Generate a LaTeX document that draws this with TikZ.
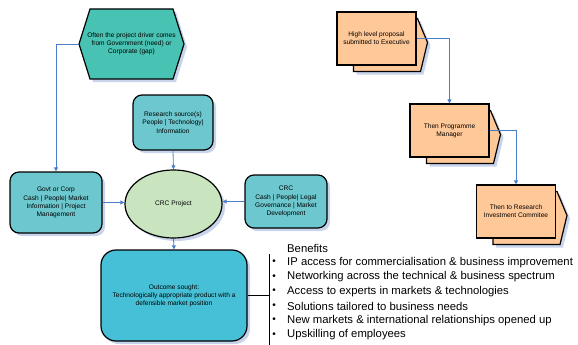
\documentclass[tikz,border=0pt]{standalone}
\usepackage{fontspec}
\setmainfont{Liberation Sans}
\usepackage{tikz}
\usetikzlibrary{calc}
\usetikzlibrary{shapes}
\usetikzlibrary{shadows}
\usetikzlibrary{arrows.meta}
\definecolor{drvteal}{RGB}{72,194,178}
\definecolor{boxteal}{RGB}{108,200,206}
\definecolor{outcyan}{RGB}{70,192,214}
\definecolor{crcgreen}{RGB}{200,229,192}
\definecolor{docorange}{RGB}{255,200,152}
\definecolor{shadeblue}{RGB}{200,212,236}
\definecolor{linkblue}{RGB}{74,126,200}
\tikzset{
  tinytext/.style={font=\fontsize{6.6}{8.2}\selectfont, align=center},
  shade/.style={drop shadow={shadow xshift=3pt, shadow yshift=-3pt, fill=shadeblue, opacity=1}},
  tealbox/.style={tinytext, draw, line width=1.2pt, rounded corners=9pt, fill=boxteal, shade},
  link/.style={linkblue, line width=0.8pt, -{Triangle[length=4pt,width=4pt]}},
  bentext/.style={anchor=west, inner sep=0pt, font=\fontsize{11.3}{13}\selectfont},
}
% stacked document: name, centre x, centre y, text
\newcommand{\docstack}[4]{
  \fill[shadeblue] ($(#2,#3)+(-20,-17)$) -- ($(#2,#3)+(44,-17)$) -- ($(#2,#3)+(54,7)$) -- ($(#2,#3)+(47,36)$) -- ($(#2,#3)+(-20,36)$) -- cycle;
  \draw[line width=1.2pt, fill=docorange] ($(#2,#3)+(-23,-20)$) -- ($(#2,#3)+(41,-20)$) -- ($(#2,#3)+(51,4)$) -- ($(#2,#3)+(44,33)$) -- ($(#2,#3)+(-23,33)$) -- cycle;
  \node[tinytext, draw, line width=1.2pt, fill=docorange, minimum width=79pt, minimum height=53pt, inner sep=0pt] (#1) at (#2,#3) {#4};
}

\begin{document}
\begin{tikzpicture}[x=1pt, y=-1pt]
  \useasboundingbox (0,0) rectangle (578,345);

  % driver
  \draw[line width=1.2pt, fill=drvteal, shade] (90,9) -- (173,9) -- (184,44) -- (173,79) -- (90,79) -- (79,44) -- cycle;
  \node[tinytext, inner sep=0pt] (drv) at (131.5,44)
        {Often the project driver comes\\from Government (need) or\\Corporate (gap)};
  \coordinate (drvtip) at (79,44);

  % inputs
  \node[tealbox, minimum width=80pt, minimum height=55pt] (res) at (173,122.5)
        {Research source(s)\\People | Technology|\\Information};
  \node[tealbox, minimum width=92pt, minimum height=61pt] (govt) at (56,202.5)
        {Govt or Corp\\Cash | People| Market\\Information | Project\\Management};
  \node[tealbox, minimum width=82pt, minimum height=53pt] (crcbox) at (286,201.5)
        {CRC\\Cash | People| Legal\\Governance | Market\\Development};

  % centre
  \node[tinytext, ellipse, draw, line width=1.2pt, fill=crcgreen, shade, minimum width=97pt, minimum height=68pt] (crc) at (173.5,204) {CRC Project};

  % outcome
  \node[tinytext, draw, line width=1.2pt, rounded corners=15pt, fill=outcyan, shade, minimum width=146pt, minimum height=91pt] (out) at (174,295.5)
        {Outcome sought:\\Technologically appropriate product with a\\defensible market position};

  \draw[link] (drvtip) -| (govt.north);
  \draw[link] (res.south) -- (crc.north);
  \draw[link] (govt.east) -- (govt.east -| crc.west);
  \draw[link] (crcbox.west) -- (crcbox.west -| crc.east);
  \draw[link] (crc.south) -- (out.north);

  % benefits
  \coordinate (brktop) at (269,254);
  \coordinate (brkbot) at (269,345);
  \draw[line width=0.8pt] (brktop) -- (brkbot);
  \draw[line width=0.8pt] (out.east) -- (out.east -| brktop);
  \node[bentext] (benhead) at (287,248) {Benefits};
  \foreach \txt [count=\i] in {IP access for commercialisation \& business improvement,
      Networking across the technical \& business spectrum,
      Access to experts in markets \& technologies,
      Solutions tailored to business needs,
      New markets \& international relationships opened up,
      Upskilling of employees}{
    \node[bentext] (ben\i) at (287,{248+14.5*\i}) {\txt};
    \node[inner sep=0pt, font=\fontsize{10}{12}\selectfont] (dot\i) at (274,{248+14.5*\i}) {\textbullet};
  }

  % approval chain
  \docstack{exec}{376.5}{38.5}{High level proposal\\submitted to Executive}
  \docstack{pm}{449.5}{130.5}{Then Programme\\Manager}
  \docstack{ric}{516}{211.5}{Then to Research\\Investment Commitee}

  \draw[link] (exec.east) -| (pm.north);
  \draw[link] (pm.east) -| (ric.north);
\end{tikzpicture}
\end{document}
